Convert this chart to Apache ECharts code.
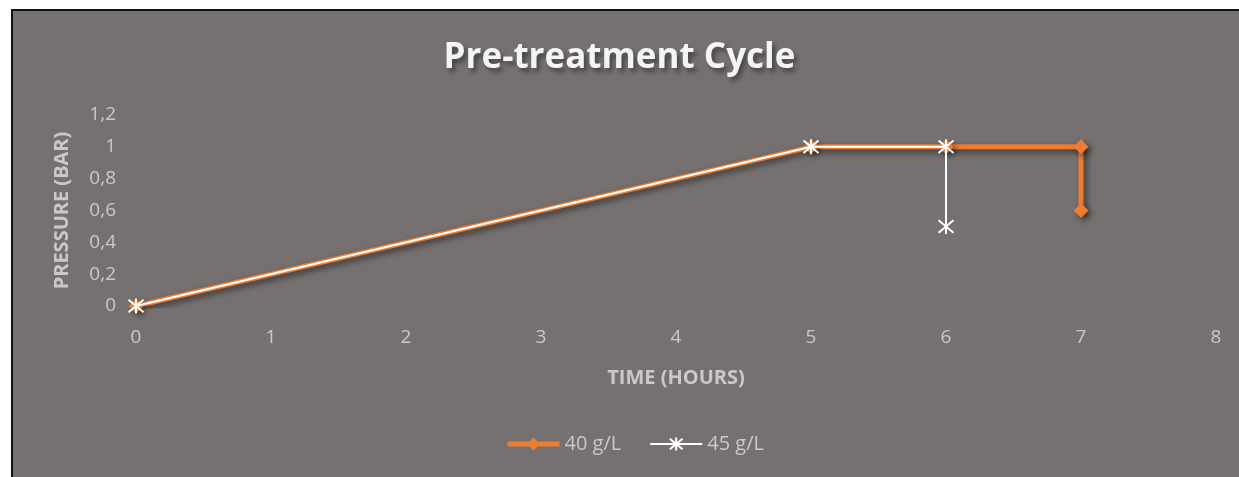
<!DOCTYPE html>
<html>
<head>
<meta charset="utf-8">
<script src="https://cdn.jsdelivr.net/npm/echarts@6/dist/echarts.min.js"></script>
<style>
  html, body { margin: 0; padding: 0; background: #ffffff; }
  #frame {
    position: absolute; left: 11px; top: 9px; width: 1240px; height: 480px;
    background: #767170; border-left: 2px solid #111; border-top: 2px solid #111;
  }
  #chart { position: absolute; left: 0; top: 0; width: 1239px; height: 477px; }
</style>
</head>
<body>
<div id="frame"></div>
<div id="chart"></div>
<script>
// hours / bar
const series40 = [[0, 0], [5, 1], [6, 1], [7, 1], [7, 0.6]];
const series45 = [[0, 0], [5, 1], [6, 1], [6, 0.5]];
const seriesNames = ['40 g/L', '45 g/L'];

const labelColor = '#cbc9c8';
const font = '"Open Sans", "Liberation Sans", sans-serif';
const starPath = 'path://M0,0L10,10M10,0L0,10M5,-1L5,11';

const shadow = {
  shadowColor: 'rgba(0,0,0,0.55)',
  shadowBlur: 6,
  shadowOffsetX: 3,
  shadowOffsetY: 3
};

var option = {
  backgroundColor: 'transparent',
  textStyle: { fontFamily: font },
  title: {
    text: 'Pre-treatment Cycle',
    left: 'center',
    top: 36,
    textStyle: {
      color: '#f4f4f4',
      fontSize: 35,
      fontWeight: 'bold',
      fontFamily: font,
      textShadowColor: 'rgba(40,40,40,0.6)',
      textShadowBlur: 4,
      textShadowOffsetX: 3,
      textShadowOffsetY: 4
    }
  },
  legend: {
    bottom: 18,
    left: 500,
    itemWidth: 52,
    itemHeight: 16,
    itemGap: 28,
    textStyle: { color: labelColor, fontSize: 20, fontFamily: font },
    data: [
      { name: seriesNames[0], lineStyle: { width: 5, shadowBlur: 0, shadowOffsetX: 0, shadowOffsetY: 0 } },
      { name: seriesNames[1], lineStyle: { width: 2 } }
    ]
  },
  grid: { left: 136, right: 23, top: 115, bottom: 171 },
  xAxis: {
    type: 'value',
    min: 0, max: 8, interval: 1,
    name: 'TIME (HOURS)',
    nameLocation: 'middle',
    nameGap: 62,
    nameTextStyle: { color: labelColor, fontSize: 20, fontWeight: 'bold' },
    axisLine: { show: false },
    axisTick: { show: false },
    splitLine: { show: false },
    axisLabel: { color: labelColor, fontSize: 19, margin: 22 }
  },
  yAxis: {
    type: 'value',
    min: 0, max: 1.2, interval: 0.2,
    name: 'PRESSURE (BAR)',
    nameLocation: 'middle',
    nameGap: 64,
    nameTextStyle: { color: labelColor, fontSize: 20, fontWeight: 'bold' },
    axisLine: { show: false },
    axisTick: { show: false },
    splitLine: { show: false },
    axisLabel: {
      color: labelColor, fontSize: 19, margin: 20,
      formatter: v => String(Math.round(v * 10) / 10).replace('.', ',')
    }
  },
  series: [
    {
      name: seriesNames[0],
      type: 'line',
      data: series40,
      symbol: 'diamond',
      symbolSize: 15,
      showAllSymbol: true,
      lineStyle: Object.assign({ color: '#ed7d31', width: 5 }, shadow),
      itemStyle: Object.assign({ color: '#ed7d31' }, shadow),
      z: 2
    },
    {
      name: seriesNames[1],
      type: 'line',
      data: series45,
      symbol: starPath,
      symbolSize: 15,
      showAllSymbol: true,
      lineStyle: { color: '#ffffff', width: 2 },
      itemStyle: { color: '#ffffff', borderColor: '#ffffff', borderWidth: 2 },
      z: 3
    }
  ]
};

var chart = echarts.init(document.getElementById('chart'));
chart.setOption(option);
</script>
</body>
</html>
